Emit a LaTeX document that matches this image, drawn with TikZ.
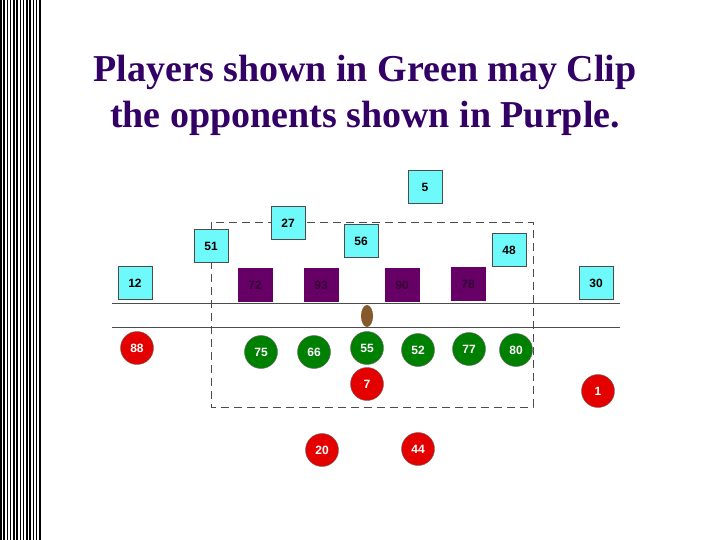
\documentclass[tikz,border=0pt]{standalone}
\usepackage{fontspec}
\usetikzlibrary{shapes.geometric}
\setmainfont{Liberation Serif}
\newfontfamily\arial{Liberation Sans}
\definecolor{ttl}{RGB}{51,0,102}
\definecolor{cy}{RGB}{110,250,250}
\begin{document}
\begin{tikzpicture}[x=1pt,y=-1pt,
 off/.style={draw=black!70,fill=cy,minimum width=34pt,minimum height=33pt,inner sep=0pt,font=\arial\bfseries\fontsize{12}{12}\selectfont},
 opp/.style={fill=violet!80!black,draw=violet!80!black,minimum width=34pt,minimum height=33pt,inner sep=0pt,text=violet!40!black,font=\arial\bfseries\fontsize{12}{12}\selectfont},
 grn/.style={circle,draw=black!60,fill=green!50!black,minimum size=33pt,inner sep=0pt,text=white,font=\arial\bfseries\fontsize{12}{12}\selectfont},
 red/.style={grn,fill=red!90!black}]
\useasboundingbox (0,0) rectangle (720,540);
\foreach \i in {0,...,12} \fill (\i*3.25,0) rectangle (\i*3.25+1.6,540);
\node[font=\bfseries\fontsize{38}{46}\selectfont,align=center,text=ttl] (title) at (365,95) {Players shown in Green may Clip\\the opponents shown in Purple.};
\draw[black!70,thick] (112,303) -- (620,303) (112,327) -- (620,327);
\draw[dashed,black!70,dash pattern=on 8pt off 5pt] (211,222) rectangle (533,407);
\node[ellipse,fill=brown!70!black,minimum width=12pt,minimum height=22pt,inner sep=0pt] (ball) at (367,316) {};
\node[off] (o5) at (425,187) {5};
\node[off] (o27) at (288,223) {27};
\node[off] (o51) at (211,246) {51};
\node[off] (o56) at (361,241) {56};
\node[off] (o48) at (509,250) {48};
\node[off] (o12) at (135,283) {12};
\node[off] (o30) at (596,283) {30};
\node[opp] (p72) at (255,285) {72};
\node[opp] (p93) at (321,285) {93};
\node[opp] (p90) at (402,285) {90};
\node[opp] (p78) at (468,284) {78};
\node[red] (r88) at (137,348) {88};
\node[grn] (g75) at (261,352) {75};
\node[grn] (g66) at (314,352) {66};
\node[grn] (g55) at (367,348) {55};
\node[grn] (g52) at (418,350) {52};
\node[grn] (g77) at (469,349) {77};
\node[grn] (g80) at (516,350) {80};
\node[red] (r7) at (367,384) {7};
\node[red] (r1) at (598,391) {1};
\node[red] (r20) at (322,450) {20};
\node[red] (r44) at (418,449) {44};
\end{tikzpicture}
\end{document}
